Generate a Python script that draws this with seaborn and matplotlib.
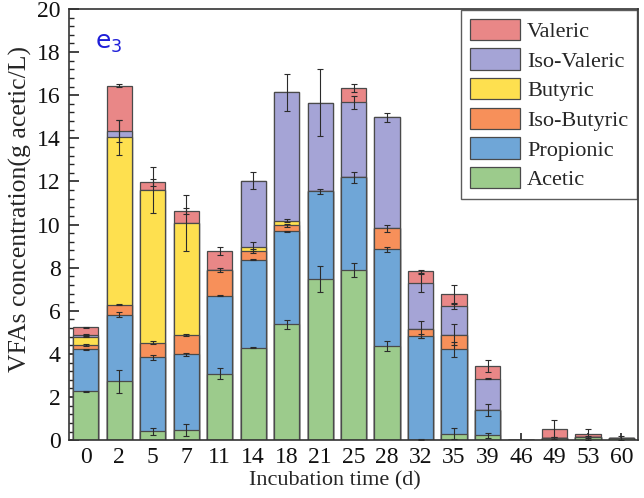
import numpy as np
import pandas as pd
import matplotlib
matplotlib.use("Agg")
import matplotlib.pyplot as plt
import seaborn as sns
from matplotlib.ticker import MultipleLocator

# Incubation days
days = ["0", "2", "5", "7", "11", "14", "18", "21", "25", "28",
        "32", "35", "39", "46", "49", "53", "60"]

# VFA concentrations (g acetic/L), stacked bottom to top
acetic      = [2.26, 2.74, 0.42, 0.48, 3.09, 4.30, 5.38, 7.46, 7.89, 4.36,
               0.03, 0.31, 0.22, 0.00, 0.12, 0.14, 0.11]
propionic   = [1.96, 3.09, 3.42, 3.50, 3.61, 4.08, 4.30, 4.08, 4.31, 4.50,
               4.80, 3.91, 1.19, 0.00, 0.00, 0.00, 0.00]
iso_butyric = [0.20, 0.45, 0.68, 0.89, 1.19, 0.40, 0.28, 0.00, 0.00, 0.96,
               0.31, 0.68, 0.00, 0.00, 0.00, 0.00, 0.00]
butyric     = [0.38, 7.77, 7.07, 5.21, 0.00, 0.19, 0.23, 0.00, 0.00, 0.00,
               0.00, 0.00, 0.00, 0.00, 0.00, 0.00, 0.00]
iso_valeric = [0.10, 0.29, 0.00, 0.00, 0.00, 3.06, 5.94, 4.11, 3.47, 5.15,
               2.15, 1.33, 1.45, 0.00, 0.00, 0.00, 0.00]
valeric     = [0.33, 2.10, 0.37, 0.55, 0.89, 0.00, 0.00, 0.00, 0.66, 0.00,
               0.54, 0.54, 0.57, 0.00, 0.41, 0.14, 0.00]

# Standard deviations drawn at the top of each stacked segment
acetic_sd      = [0.03, 0.53, 0.17, 0.29, 0.24, 0.02, 0.20, 0.60, 0.31, 0.22,
                  0.03, 0.27, 0.10, 0.00, 0.05, 0.05, 0.10]
propionic_sd   = [0.03, 0.10, 0.12, 0.08, 0.03, 0.03, 0.03, 0.10, 0.25, 0.12,
                  0.10, 0.35, 0.28, 0.00, 0.00, 0.00, 0.00]
iso_butyric_sd = [0.03, 0.03, 0.08, 0.05, 0.08, 0.10, 0.05, 0.00, 0.00, 0.16,
                  0.38, 0.50, 0.00, 0.00, 0.00, 0.00, 0.00]
butyric_sd     = [0.03, 0.80, 1.07, 1.30, 0.00, 0.20, 0.05, 0.00, 0.00, 0.00,
                  0.00, 0.00, 0.00, 0.00, 0.00, 0.00, 0.00]
iso_valeric_sd = [0.03, 0.50, 0.00, 0.00, 0.00, 0.40, 0.85, 1.55, 0.30, 0.20,
                  0.40, 0.15, 0.03, 0.00, 0.00, 0.00, 0.00]
valeric_sd     = [0.03, 0.07, 0.15, 0.12, 0.17, 0.00, 0.00, 0.00, 0.20, 0.00,
                  0.08, 0.45, 0.27, 0.00, 0.40, 0.25, 0.00]

acids = ["Acetic", "Propionic", "Iso-Butyric", "Butyric", "Iso-Valeric", "Valeric"]
colors = ["#9ccb8c", "#6fa6d7", "#f7905a", "#fee04f", "#a5a4d6", "#e98787"]

values = [acetic, propionic, iso_butyric, butyric, iso_valeric, valeric]
sds = [acetic_sd, propionic_sd, iso_butyric_sd, butyric_sd, iso_valeric_sd, valeric_sd]

sns.set_style("white")
plt.rcParams["font.family"] = ["Liberation Serif", "DejaVu Serif"]

fig = plt.figure(figsize=(6.44, 4.98), dpi=100)
ax = fig.add_axes([0.107, 0.116, 0.884, 0.866])

# cumulative tops of every stacked segment
tops = np.cumsum(np.array(values, dtype=float), axis=0)

# Paint from the tallest cumulative level down, so each lower acid covers
# the part of the bar beneath its upper boundary.
for i in range(len(acids) - 1, -1, -1):
    df = pd.DataFrame({"day": days, "conc": tops[i]})
    sns.barplot(data=df, x="day", y="conc", color=colors[i], width=0.75,
                edgecolor="#4a4a4a", linewidth=0.9, saturation=1,
                label=acids[i], ax=ax, zorder=2)

xpos = np.arange(len(days))
for i in range(len(acids)):
    vals = np.asarray(values[i], dtype=float)
    sd = np.asarray(sds[i], dtype=float)
    m = (vals > 0) & (sd > 0)
    ax.errorbar(xpos[m], tops[i][m], yerr=sd[m], fmt="none", ecolor="#2b2b2b",
                elinewidth=0.8, capsize=2.5, capthick=0.8, zorder=3)

ax.set_xlim(-0.5, 16.5)
ax.set_ylim(0, 20)
ax.yaxis.set_major_locator(MultipleLocator(2))
ax.yaxis.set_minor_locator(MultipleLocator(0.4))
ax.tick_params(axis="y", which="major", direction="in", length=7, width=1.1,
               labelsize=17, left=True, pad=6, colors="#111111")
ax.tick_params(axis="y", which="minor", direction="in", length=3.5, width=1.0,
               left=True)
ax.tick_params(axis="x", which="major", direction="in", length=5, width=1.1,
               labelsize=17, bottom=True, pad=5, colors="#111111")
for s in ax.spines.values():
    s.set_color("#333333")
    s.set_linewidth(1.2)

ax.set_xlabel("Incubation time (d)", fontsize=16)
ax.xaxis.set_label_coords(0.468, -0.072)
ax.set_ylabel("VFAs concentration(g acetic/L)", fontsize=18.5)
ax.yaxis.set_label_coords(-0.064, 0.537)

ax.text(0.045, 0.92, r"e$_3$", transform=ax.transAxes, color="#1f1fd8",
        fontsize=18, family=["DejaVu Sans"], va="center", ha="left")

leg = ax.legend(loc="upper right", bbox_to_anchor=(0.998, 0.998), fontsize=16,
                frameon=True, fancybox=False, borderaxespad=0.0,
                handlelength=2.25, handleheight=1.1, handletextpad=0.3,
                labelspacing=0.29, borderpad=0.4)
leg.get_frame().set_edgecolor("#333333")
leg.get_frame().set_linewidth(1.0)

fig.savefig("out.png", dpi=100)
